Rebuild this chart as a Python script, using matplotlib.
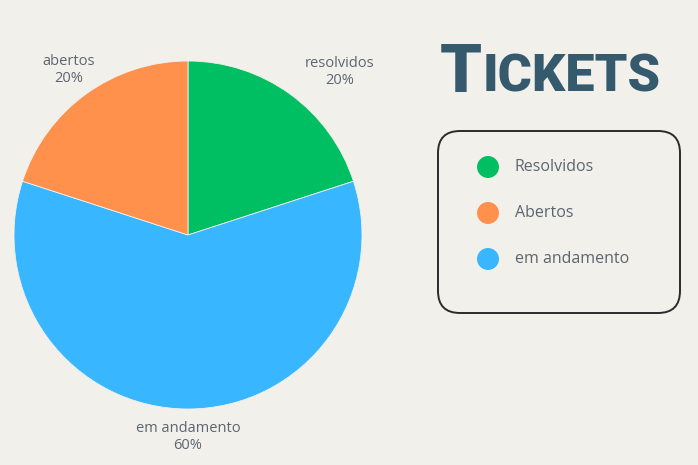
import numpy as np
import matplotlib.pyplot as plt
from matplotlib.patches import FancyBboxPatch

# dados do grafico
categorias = ["resolvidos", "em andamento", "abertos"]
valores = [20, 60, 20]
cores = ["#00BF63", "#38B6FF", "#FF914D"]
legenda_nomes = ["Resolvidos", "Abertos", "em andamento"]
legenda_cores = ["#00BF63", "#FF914D", "#38B6FF"]
titulo = "Tickets"

fundo = "#F2F0EB"
cor_texto = "#5B6670"
fonte = ["Open Sans", "DejaVu Sans"]

fig = plt.figure(figsize=(6.98, 4.65), dpi=100, facecolor=fundo)

# pizza
ax = fig.add_axes([14 / 698, 56 / 465, 348 / 698, 348 / 465])
ax.set_facecolor(fundo)
rotulos = [f"{c}\n{v}%" for c, v in zip(categorias, valores)]
wedges, textos = ax.pie(valores, colors=cores, startangle=90, counterclock=False,
                        labels=rotulos, labeldistance=1.18,
                        wedgeprops=dict(edgecolor=fundo, linewidth=0.6),
                        textprops=dict(color=cor_texto, fontsize=10.5, family=fonte))
# posicao dos rotulos (angulo em graus, distancia em raios)
pos_rotulos = [(47, 1.28), (270, 1.16), (126, 1.17)]
for t, (ang, dist) in zip(textos, pos_rotulos):
    a = np.radians(ang)
    t.set_position((dist * np.cos(a), dist * np.sin(a)))
    t.set_ha("center")
    t.set_va("center")
    t.set_linespacing(1.15)
    t.set_clip_on(False)
ax.set_xlim(-1, 1)
ax.set_ylim(-1, 1)
ax.set_aspect("equal")
ax.axis("off")

# titulo e legenda em coordenadas de pixel
ov = fig.add_axes([0, 0, 1, 1], facecolor="none")
ov.set_xlim(0, 698)
ov.set_ylim(465, 0)
ov.axis("off")

tfam = ["Roboto", "DejaVu Sans"]
t1 = ov.text(440, 92, titulo[0], fontsize=48, fontweight="black", color="#355A6E",
             family=tfam, va="baseline", ha="left")
fig.canvas.draw()
bb = t1.get_window_extent()
x_fim = bb.x1 * 698 / fig.bbox.width
ov.text(x_fim + 1, 92, titulo[1:].upper(), fontsize=37.5,
        fontweight="black", color="#355A6E", family=tfam, va="baseline", ha="left")

caixa = FancyBboxPatch((438, 131), 242, 182,
                       boxstyle="round,pad=0,rounding_size=22",
                       facecolor="none", edgecolor="#2B2B2B", linewidth=1.4)
ov.add_patch(caixa)
for i, (nome, cor) in enumerate(zip(legenda_nomes, legenda_cores)):
    y = 167 + i * 46
    ov.scatter([488], [y], s=250, color=cor, edgecolors="none")
    ov.text(515, y, nome, fontsize=11.5, color=cor_texto, va="center", ha="left",
            family=fonte)

fig.savefig("out.png", dpi=100, facecolor=fundo)
